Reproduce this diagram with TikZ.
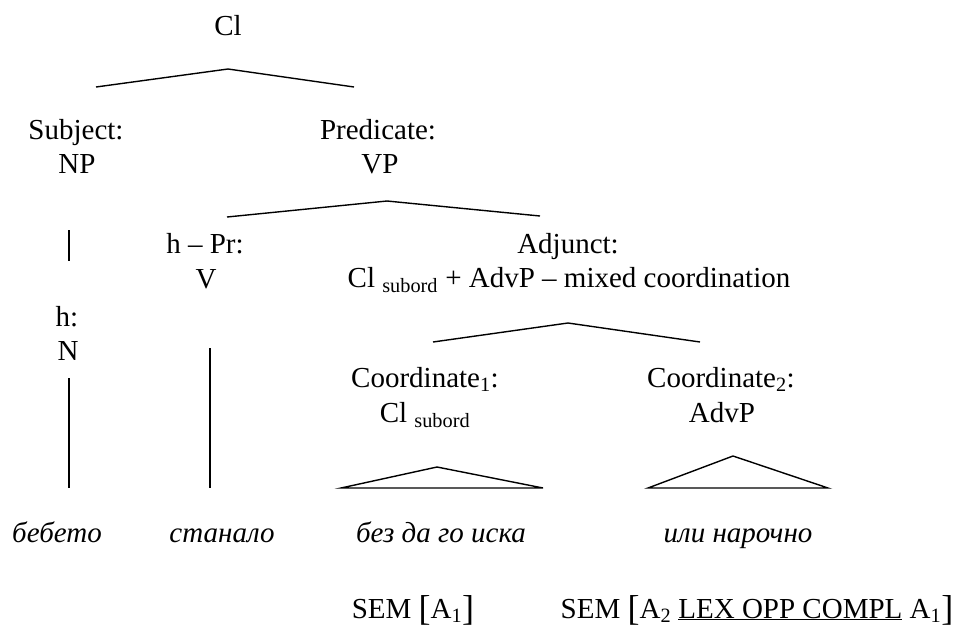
\documentclass[tikz,border=0pt]{standalone}
\usepackage{fontspec}
\setmainfont{Liberation Serif}
% a tall square bracket for the SEM annotations
\newcommand{\tallbr}[1]{\raisebox{-0.09em}{\fontsize{36}{36}\selectfont #1}}
\newcommand{\subtxt}[1]{\textsubscript{#1}}
\begin{document}
\begin{tikzpicture}[x=1pt,y=-1pt,
  lbl/.style={anchor=base, inner sep=0pt, font=\fontsize{29}{34}\selectfont},
  word/.style={anchor=base, inner sep=0pt, font=\fontsize{29}{34}\selectfont\itshape},
  branch/.style={line width=1.4pt, line join=miter, line cap=butt}]
\useasboundingbox (0,0) rectangle (960,632);

% clause and its two functions
\node[lbl] (cl)     at (228,35)  {Cl};
\node[lbl] (subj)   at (76,139)  {Subject:};
\node[lbl] (subjNP) at (77,173)  {NP};
\node[lbl] (pred)   at (378,139) {Predicate:};
\node[lbl] (predVP) at (380,173) {VP};

% inside the subject
\node[lbl] (hd)     at (67,326)  {h:};
\node[lbl] (hdN)    at (68,360)  {N};

% inside the predicate
\node[lbl] (hpr)    at (205,253) {h -- Pr:};
\node[lbl] (hprV)   at (206,288) {V};
\node[lbl] (adj)    at (568,253) {Adjunct:};
\node[lbl] (adjcat) at (569,287) {Cl \subtxt{subord} + AdvP -- mixed coordination};

% the two coordinates
\node[lbl] (co1)    at (425,387) {Coordinate\subtxt{1}:};
\node[lbl] (co1cat) at (425,422) {Cl \subtxt{subord}};
\node[lbl] (co2)    at (721,387) {Coordinate\subtxt{2}:};
\node[lbl] (co2cat) at (722,422) {AdvP};

% the words
\node[word] (w1) at (57,542)  {бебето};
\node[word] (w2) at (222,542) {станало};
\node[word] (w3) at (441,542) {без да го иска};
\node[word] (w4) at (738,542) {или нарочно};

% semantic annotations
\node[lbl] (sem1) at (413,618) {SEM \tallbr{[}A\subtxt{1}\tallbr{]}};
\node[lbl] (sem2) at (757,618) {SEM \tallbr{[}A\subtxt{2} \underline{LEX OPP COMPL} A\subtxt{1}\tallbr{]}};

% branch points
\coordinate (clL) at (96,87);   \coordinate (clT) at (228,69);  \coordinate (clR) at (354,87);
\coordinate (vpL) at (227,217); \coordinate (vpT) at (387,201); \coordinate (vpR) at (540,216);
\coordinate (adL) at (433,342); \coordinate (adT) at (568,323); \coordinate (adR) at (700,342);
\coordinate (npA) at (69,230);  \coordinate (npB) at (69,261);
\coordinate (nA)  at (69,378);  \coordinate (nB)  at (69,488);
\coordinate (vA)  at (210,348); \coordinate (vB)  at (210,488);
\coordinate (t1L) at (341,488); \coordinate (t1T) at (437,467); \coordinate (t1R) at (543,488);
\coordinate (t2L) at (648,488); \coordinate (t2T) at (733,456); \coordinate (t2R) at (828,488);

% branches
\draw[branch] (clL) -- (clT) -- (clR);
\draw[branch] (vpL) -- (vpT) -- (vpR);
\draw[branch] (adL) -- (adT) -- (adR);
\draw[branch] (npA) -- (npB);
\draw[branch] (nA) -- (nB);
\draw[branch] (vA) -- (vB);
\draw[branch] (t1L) -- (t1T) -- (t1R) -- cycle;
\draw[branch] (t2L) -- (t2T) -- (t2R) -- cycle;
\end{tikzpicture}
\end{document}
